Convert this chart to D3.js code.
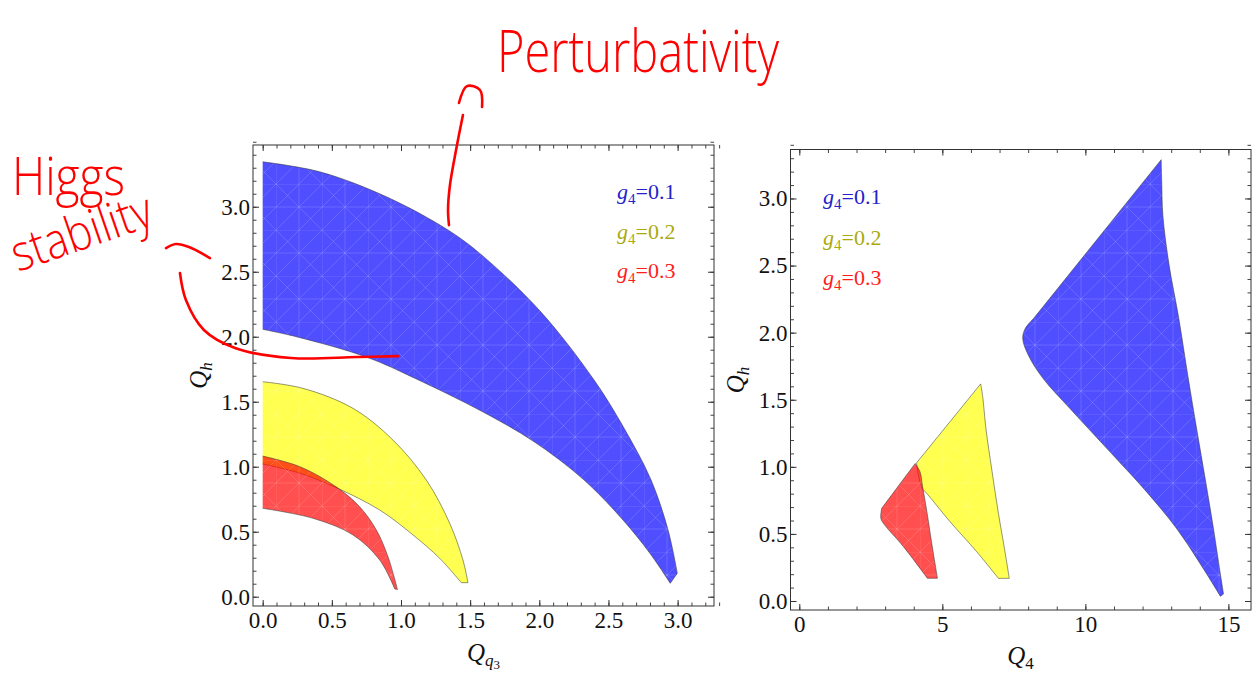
<!DOCTYPE html>
<html>
<head>
<meta charset="utf-8">
<script src="https://cdn.jsdelivr.net/npm/d3@7"></script>
<style>
  body { margin: 0; background: #fff; }
</style>
</head>
<body>
<div class="chart"></div>
<script>
// ---- data: region boundaries as [x, y] ----
// left panel (Q_q3 vs Q_h): bands start at x = 0
const q3BlueOuter   = [[0,3.346],[0.412,3.269],[0.894,3.077],[1.340,2.821],[1.593,2.62],[2.012,2.190],[2.396,1.667],[2.612,1.298],[2.808,0.898],[2.931,0.513],[2.998,0.180]];
const q3BlueInner   = [[0,2.057],[0.243,2.0],[0.749,1.844],[1.111,1.675],[1.593,1.421],[1.954,1.198],[2.316,0.905],[2.605,0.590],[2.798,0.336],[2.947,0.103]];
const q3YellowOuter = [[0,1.654],[0.291,1.603],[0.653,1.449],[0.942,1.205],[1.183,0.898],[1.352,0.565],[1.448,0.282],[1.484,0.108]];
const q3YellowInner = [[0,1.021],[0.27,0.95],[0.532,0.839],[0.846,0.667],[1.087,0.475],[1.280,0.295],[1.436,0.108]];
const q3RedOuter    = [[0,1.082],[0.27,1.0],[0.532,0.845],[0.701,0.692],[0.822,0.513],[0.906,0.308],[0.975,0.055]];
const q3RedInner    = [[0,0.680],[0.364,0.603],[0.653,0.475],[0.846,0.282],[0.955,0.06]];

// right panel (Q_4 vs Q_h): closed shapes, edge by edge
const q4BlueEdges = [
  [[12.65,3.289],[12.67,3.122],[12.71,2.872],[12.93,2.500],[13.25,2.126],[13.60,1.656],[13.89,1.283],[14.19,0.910],[14.48,0.537],[14.71,0.214],[14.83,0.052]],
  [[14.83,0.052],[14.72,0.035]],
  [[14.72,0.035],[14.13,0.239],[13.20,0.537],[12.15,0.811],[10.98,1.084],[9.47,1.432],[8.53,1.656],[8.01,1.830],[7.81,1.954],[7.89,2.028],[8.18,2.103]],
  [[8.18,2.103],[12.65,3.289]]
];
const q4YellowEdges = [
  [[6.34,1.618],[6.41,1.524],[6.53,1.275],[6.73,0.977],[6.96,0.654],[7.16,0.405],[7.34,0.169]],
  [[7.34,0.169],[6.96,0.169]],
  [[6.96,0.169],[6.20,0.368],[5.27,0.591],[4.45,0.803],[4.28,0.84]],
  [[4.28,0.84],[4.15,0.95],[4.10,1.03]],
  [[4.10,1.03],[6.34,1.618]]
];
const q4RedEdges = [
  [[4.05,1.025],[4.22,0.964],[4.31,0.852],[4.45,0.679],[4.63,0.430],[4.83,0.169]],
  [[4.83,0.169],[4.48,0.169]],
  [[4.48,0.169],[3.64,0.405],[2.94,0.579],[2.85,0.617],[2.88,0.691]],
  [[2.88,0.691],[4.05,1.025]]
];

// tick labels
const q3XTickLabels = ["0.0","0.5","1.0","1.5","2.0","2.5","3.0"];
const q4XTickLabels = ["0","5","10","15"];
const qhTickLabels  = ["0.0","0.5","1.0","1.5","2.0","2.5","3.0"];

// legend entries
const couplings = ["0.1","0.2","0.3"];

// hand-drawn annotations (left panel data units)
const pertArc   = [[1.419,3.798],[1.477,3.928],[1.571,3.898],[1.586,3.767]];
const pertLine  = [[1.448,3.705],[1.398,3.436],[1.354,3.167],[1.340,2.975],[1.347,2.859]];
const higgsArc  = [[-0.699,2.682],[-0.627,2.713],[-0.533,2.690],[-0.381,2.605]];
const higgsLine = [[-0.598,2.490],[-0.555,2.282],[-0.425,2.052],[-0.200,1.913],[0.205,1.836],[0.682,1.844],[0.978,1.851]];

// ---- styles ----
const fills = ["#0000ff", "#ffff00", "#ff0000"];
const legendColours = ["#2323c9", "#aaaa10", "#ff1c1c"];
const serif = "'Liberation Serif', 'Times New Roman', serif";

const width = 1254, height = 675;

const svg = d3.select(".chart")
  .append("svg")
  .attr("width", width)
  .attr("height", height)
  .style("font-family", serif);

// faint mesh texture like the sampled region rendering
const defs = svg.append("defs");
const pat = defs.append("pattern")
  .attr("id", "mesh")
  .attr("patternUnits", "userSpaceOnUse")
  .attr("width", 46)
  .attr("height", 46);
pat.append("path")
  .attr("d", "M0,0H46M0,23H46M0,0V46M23,0V46M0,46L46,0M0,23L23,0M23,46L46,23M0,0L46,46")
  .attr("stroke", "#fff")
  .attr("stroke-opacity", 0.14)
  .attr("stroke-width", 1)
  .attr("fill", "none");

// panel layout
const left = {
  box: [253, 714, 145, 606],
  x: d3.scaleLinear().domain([-0.07, 3.263]).range([253, 714]),
  y: d3.scaleLinear().domain([-0.0715, 3.475]).range([606, 145]),
  xLabels: q3XTickLabels, xMinor: 0.1,
  yLabels: qhTickLabels, yMinor: 0.1
};
const right = {
  box: [790.5, 1251, 149.5, 610],
  x: d3.scaleLinear().domain([-0.308, 15.79]).range([790.5, 1251]),
  y: d3.scaleLinear().domain([-0.067, 3.365]).range([610, 149.5]),
  xLabels: q4XTickLabels, xMinor: 1,
  yLabels: qhTickLabels, yMinor: 0.1
};

function edgePath(pts, p) {
  return d3.line()
    .x(d => p.x(d[0]))
    .y(d => p.y(d[1]))
    .curve(pts.length > 2 ? d3.curveCatmullRom : d3.curveLinear)(pts);
}

function joinEdges(edges, p, close) {
  const s = edges.map((e, i) => {
    const d = edgePath(e, p);
    return i ? d.replace(/^M/, "L") : d;
  }).join("");
  return close ? s + "Z" : s;
}

function drawRegion(p, fillPath, strokePath, colour) {
  const g = svg.append("g");
  g.append("path")
    .attr("d", fillPath)
    .attr("fill", colour)
    .attr("fill-opacity", 0.69);
  g.append("path")
    .attr("d", fillPath)
    .attr("fill", "url(#mesh)");
  g.append("path")
    .attr("d", strokePath)
    .attr("fill", "none")
    .attr("stroke", "#333")
    .attr("stroke-opacity", 0.65)
    .attr("stroke-width", 0.8);
}

// band starting on x = 0: outer curve, end cap, inner curve back
function drawBand(p, outer, inner, colour) {
  const edges = [outer, [outer[outer.length - 1], inner[inner.length - 1]], inner.slice().reverse()];
  drawRegion(p, joinEdges(edges, p, true), joinEdges(edges, p, false), colour);
}

function drawShape(p, edges, colour) {
  const d = joinEdges(edges, p, true);
  drawRegion(p, d, d, colour);
}

// left panel regions
drawBand(left, q3BlueOuter, q3BlueInner, fills[0]);
drawBand(left, q3YellowOuter, q3YellowInner, fills[1]);
drawBand(left, q3RedOuter, q3RedInner, fills[2]);

// right panel regions
drawShape(right, q4BlueEdges, fills[0]);
drawShape(right, q4YellowEdges, fills[1]);
drawShape(right, q4RedEdges, fills[2]);

// frame with inward ticks on all four sides
function minorValues(max, step) {
  return d3.range(0, Math.round(max / step) + 1).map(i => +(i * step).toFixed(3));
}

function drawFrame(p) {
  const [L, R, T, B] = p.box;
  const xMajor = p.xLabels.map(Number);
  const yMajor = p.yLabels.map(Number);
  const xMin = minorValues(p.x.domain()[1], p.xMinor);
  const yMin = minorValues(p.y.domain()[1], p.yMinor);

  const sides = [
    [d3.axisBottom(p.x), `translate(0,${B})`, xMajor, xMin, p.xLabels, 6],
    [d3.axisTop(p.x), `translate(0,${T})`, xMajor, xMin, null, 0],
    [d3.axisLeft(p.y), `translate(${L},0)`, yMajor, yMin, p.yLabels, 3],
    [d3.axisRight(p.y), `translate(${R},0)`, yMajor, yMin, null, 0]
  ];

  sides.forEach(([axis, tr, major, minor, labels, pad]) => {
    const gMin = svg.append("g").attr("transform", tr)
      .call(axis.tickValues(minor).tickSize(-3.5).tickFormat(""));
    gMin.select(".domain").remove();
    gMin.selectAll("line").attr("stroke", "#444");

    const gMaj = svg.append("g").attr("transform", tr)
      .call(axis.tickValues(major).tickSize(-6).tickPadding(pad)
        .tickFormat((d, i) => labels ? labels[i] : ""));
    gMaj.select(".domain").remove();
    gMaj.attr("font-family", null).attr("font-size", null);
    gMaj.selectAll("line").attr("stroke", "#333");
    gMaj.selectAll("text")
      .style("font-family", serif)
      .style("font-size", "23px")
      .attr("fill", "#111");
  });

  svg.append("rect")
    .attr("x", L).attr("y", T)
    .attr("width", R - L).attr("height", B - T)
    .attr("fill", "none")
    .attr("stroke", "#333")
    .attr("stroke-width", 1);
}

drawFrame(left);
drawFrame(right);

// axis titles
function qTitle(x, y, sub, subSub, rotate) {
  const t = svg.append("text")
    .attr("text-anchor", "middle")
    .attr("fill", "#111")
    .attr("transform", `translate(${x},${y})` + (rotate ? " rotate(-90)" : ""));
  t.append("tspan").attr("font-style", "italic").style("font-size", "25px").text("Q");
  const s = t.append("tspan").style("font-size", "17px").attr("dy", 5).text(sub.text);
  if (sub.italic) s.attr("font-style", "italic");
  if (subSub) t.append("tspan").style("font-size", "13px").attr("dy", 3).text(subSub);
}

qTitle(483.5, 661, { text: "q", italic: true }, "3", false);
qTitle(1020.5, 664, { text: "4", italic: false }, null, false);
qTitle(207, 375.5, { text: "h", italic: true }, null, true);
qTitle(744, 380, { text: "h", italic: true }, null, true);

// legends
function legend(x, ys) {
  couplings.forEach((c, i) => {
    const t = svg.append("text")
      .attr("x", x).attr("y", ys[i])
      .attr("fill", legendColours[i])
      .style("font-size", "22px");
    t.append("tspan").attr("font-style", "italic").text("g");
    t.append("tspan").style("font-size", "15px").attr("dy", 5).text("4");
    t.append("tspan").attr("dy", -5).text("=" + c);
  });
}
legend(617, [199, 239, 278]);
legend(823, [204, 245, 285]);

// hand-drawn red annotations
const annoLine = d3.line()
  .x(d => left.x(d[0]))
  .y(d => left.y(d[1]))
  .curve(d3.curveCatmullRom);

[pertArc, pertLine, higgsArc, higgsLine].forEach(pts => {
  svg.append("path")
    .attr("d", annoLine(pts))
    .attr("fill", "none")
    .attr("stroke", "#ff0000")
    .attr("stroke-width", 2.6)
    .attr("stroke-linecap", "round");
});

function scribble(txt, x, y, size, len, angle) {
  svg.append("text")
    .attr("x", x).attr("y", y)
    .attr("transform", angle ? `rotate(${angle},${x},${y})` : null)
    .style("font-family", "'Open Sans', 'DejaVu Sans', sans-serif")
    .style("font-weight", 300)
    .style("font-size", size + "px")
    .attr("textLength", len)
    .attr("lengthAdjust", "spacingAndGlyphs")
    .attr("fill", "#ff0000")
    .text(txt);
}
scribble("Perturbativity", 497, 72, 58, 282, 0);
scribble("Higgs", 12, 195, 54, 113, 0);
scribble("stability", 18, 272, 50, 146, -19);
</script>
</body>
</html>
